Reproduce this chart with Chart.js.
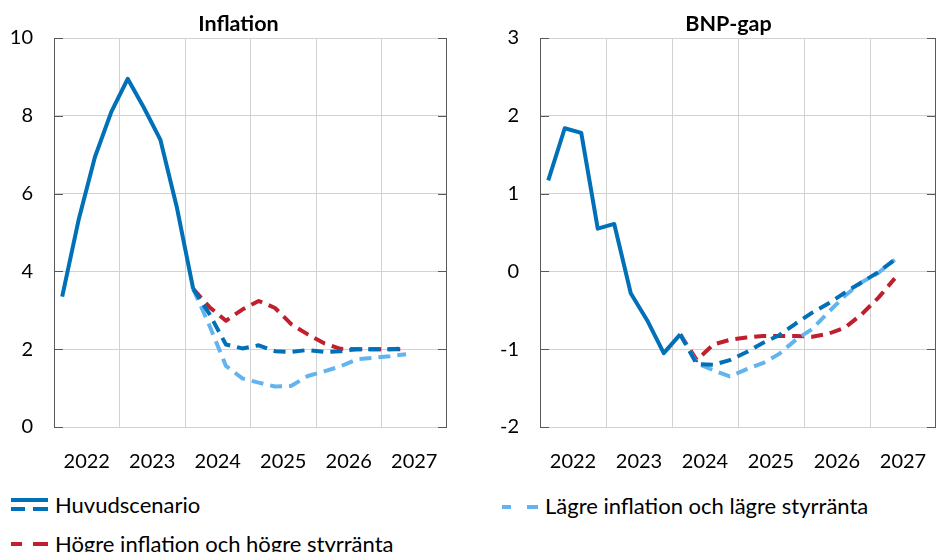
<!DOCTYPE html>
<html><head><meta charset="utf-8">
<script src="https://cdn.jsdelivr.net/npm/chart.js@4.4.1/dist/chart.umd.min.js"></script>
<style>
html,body{margin:0;padding:0;background:#fff;}
#wrap{position:relative;width:937px;height:552px;overflow:hidden;font-family:Lato,"Open Sans",sans-serif;color:#000;}
canvas{position:absolute;top:0;}
.title{position:absolute;top:10px;font-weight:bold;font-size:21.5px;line-height:26px;transform:translateX(-50%);white-space:nowrap;}
.leg{position:absolute;font-size:22px;line-height:26px;white-space:nowrap;}
.ic{position:absolute;height:4px;}
</style></head>
<body><div id="wrap">
<canvas id="c1" width="470" height="480" style="left:0"></canvas>
<canvas id="c2" width="467" height="480" style="left:470px"></canvas>
<div class="title" style="left:238.5px">Inflation</div>
<div class="title" style="left:728.5px">BNP-gap</div>

<div class="ic" style="left:11px;top:498px;width:37px;height:3.5px;background:#0070B8"></div>
<div class="ic" style="left:11px;top:507px;width:14px;height:3.5px;background:#0070B8"></div>
<div class="ic" style="left:33px;top:507px;width:15px;height:3.5px;background:#0070B8"></div>
<div class="leg" style="left:55px;top:492px">Huvudscenario</div>

<div class="ic" style="left:502px;top:505px;width:9px;background:#63B4EE"></div>
<div class="ic" style="left:527px;top:505px;width:11px;background:#63B4EE"></div>
<div class="leg" style="left:545px;top:493px">Lägre inflation och lägre styrränta</div>

<div class="ic" style="left:11px;top:542px;width:11px;background:#C01F2E"></div>
<div class="ic" style="left:33px;top:542px;width:15px;background:#C01F2E"></div>
<div class="leg" style="left:55px;top:531px">Högre inflation och högre styrränta</div>
</div>
<script>
// Quarters (categories)
const quarters = ['2022Q1','2022Q2','2022Q3','2022Q4','2023Q1','2023Q2','2023Q3','2023Q4',
  '2024Q1','2024Q2','2024Q3','2024Q4','2025Q1','2025Q2','2025Q3','2025Q4',
  '2026Q1','2026Q2','2026Q3','2026Q4','2027Q1','2027Q2'];
const yearLabels = ['2022','2023','2024','2025','2026','2027'];
const lastOutcome = 8; // index of 2024Q1, where dashed forecasts start

// Inflation
const inflMain  = [3.35, 5.32, 6.94, 8.10, 8.95, 8.20, 7.38, 5.65, 3.55, 2.90, 2.12, 2.02, 2.10, 1.95, 1.93, 1.98, 1.93, 1.95, 2.00, 2.00, 2.00, 2.02];
const inflHigh  = [null,null,null,null,null,null,null,null, 3.55, 3.08, 2.73, 3.02, 3.24, 3.06, 2.64, 2.38, 2.15, 2.01, 2.00, 2.00, 2.00, 2.00];
const inflLow   = [null,null,null,null,null,null,null,null, 3.55, 2.60, 1.57, 1.25, 1.14, 1.04, 1.06, 1.31, 1.43, 1.56, 1.74, 1.78, 1.82, 1.87];

// BNP-gap
const gapMain = [1.17, 1.84, 1.78, 0.55, 0.61, -0.28, -0.63, -1.05, -0.81, -1.19, -1.20, -1.14, -1.04, -0.92, -0.82, -0.67, -0.53, -0.41, -0.27, -0.14, -0.01, 0.15];
const gapHigh = [null,null,null,null,null,null,null,null, -0.81, -1.14, -0.94, -0.88, -0.85, -0.83, -0.83, -0.83, -0.84, -0.80, -0.72, -0.55, -0.34, -0.09];
const gapLow  = [null,null,null,null,null,null,null,null, -0.81, -1.18, -1.27, -1.35, -1.26, -1.18, -1.06, -0.88, -0.74, -0.52, -0.31, -0.14, -0.02, 0.15];

const C_MAIN = '#0070B8', C_HIGH = '#C01F2E', C_LOW = '#63B4EE';
const GRID = '#d2d2d2', AXIS = '#595959';
const FONT = {family: 'Lato, "Open Sans", sans-serif', size: 20};
const DASH = [12, 7];
const nQ = 24; // quarters on axis (2022-2027)

function pts(arr){ return arr.map((v,i)=>({x: i + 0.5, y: v})); }

const frame = {
  id: 'frame',
  beforeDatasetsDraw(chart){
    const {ctx, chartArea: a, scales: {y}} = chart;
    ctx.save();
    ctx.strokeStyle = AXIS; ctx.lineWidth = 1;
    ctx.beginPath();
    const xr = Math.round(a.right) - 0.5;
    ctx.moveTo(xr, a.top); ctx.lineTo(xr, a.bottom);
    y.ticks.forEach(t => {
      const py = Math.round(y.getPixelForValue(t.value)) + 0.5;
      ctx.moveTo(a.left, py); ctx.lineTo(a.left + 9, py);
      ctx.moveTo(a.right - 9, py); ctx.lineTo(a.right, py);
    });
    ctx.stroke();
    ctx.restore();
  }
};

function makeChart(id, main, high, low, ymin, ymax, step, yWidth, rightPad){
  new Chart(document.getElementById(id), {
    type: 'line',
    data: {
      labels: quarters,
      datasets: [
        {label: 'Huvudscenario', data: pts(main), borderColor: C_MAIN, borderWidth: 4,
         segment: {borderDash: c => c.p0DataIndex >= lastOutcome ? DASH : undefined}},
        {label: 'Lägre inflation och lägre styrränta', data: pts(low), borderColor: C_LOW, borderWidth: 4, borderDash: DASH},
        {label: 'Högre inflation och högre styrränta', data: pts(high), borderColor: C_HIGH, borderWidth: 4, borderDash: DASH}
      ]
    },
    options: {
      responsive: false, animation: false, devicePixelRatio: 1,
      layout: {padding: {top: 38, left: 0, right: rightPad, bottom: 0}},
      elements: {point: {radius: 0}, line: {tension: 0, borderCapStyle: 'butt', borderJoinStyle: 'round', fill: false}},
      plugins: {legend: {display: false}, title: {display: false}, tooltip: {enabled: false}},
      scales: {
        x: {type: 'linear', position: 'bottom', min: 0, max: nQ,
            afterBuildTicks: s => { s.ticks = yearLabels.map((_, i) => ({value: i*4 + 2})); },
            afterFit: s => { s.height = 53; s.paddingLeft = 0; s.paddingRight = 0; },
            grid: {display: false, drawTicks: false}, border: {display: false},
            ticks: {font: FONT, color: '#000', padding: 23, maxRotation: 0, autoSkip: false,
                    callback: (v, i) => yearLabels[i]}},
        xg: {type: 'linear', position: 'bottom', min: 0, max: nQ,
            afterBuildTicks: s => { const t=[]; for(let v=0; v<=nQ; v+=4) t.push({value:v}); s.ticks = t; },
            afterFit: s => { s.height = 0; s.paddingLeft = 0; s.paddingRight = 0; },
            grid: {drawTicks: false, lineWidth: 1,
                   color: c => (c.tick && (c.tick.value === 0 || c.tick.value === nQ)) ? 'rgba(0,0,0,0)' : GRID},
            border: {display: false}, ticks: {display: false}},
        y: {min: ymin, max: ymax,
            afterFit: s => { s.width = yWidth; s.paddingTop = 0; s.paddingBottom = 0; },
            ticks: {stepSize: step, font: FONT, color: '#000', padding: 21},
            grid: {color: GRID, drawTicks: false, lineWidth: 1},
            border: {display: true, color: AXIS, width: 1}}
      }
    },
    plugins: [frame]
  });
}

makeChart('c1', inflMain, inflHigh, inflLow, 0, 10, 2, 54, 23);
makeChart('c2', gapMain, gapHigh, gapLow, -2, 3, 1, 70, 1);
</script>
</body></html>
